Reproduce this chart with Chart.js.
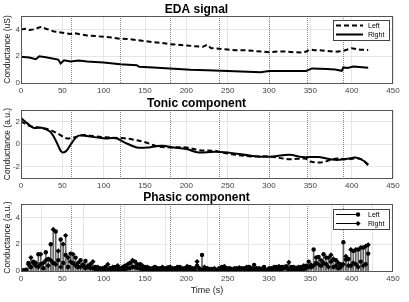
<!DOCTYPE html>
<html>
<head>
<meta charset="utf-8">
<script src="https://cdn.jsdelivr.net/npm/chart.js@4/dist/chart.umd.min.js"></script>
<style>
  html, body { margin: 0; padding: 0; background: #fff; }
  #wrap { position: relative; width: 409px; height: 302px; }
  canvas { position: absolute; left: 0; }
</style>
</head>
<body>
<div id="wrap">
  <canvas id="eda" width="409" height="96" style="top:0"></canvas>
  <canvas id="tonic" width="409" height="96" style="top:96px"></canvas>
  <canvas id="phasic" width="409" height="112" style="top:190px"></canvas>
</div>
<script>
// ---- data ----
const timeTicks = [0, 50, 100, 150, 200, 250, 300, 350, 400, 450];
const edaTicks = [0, 2, 4];
const tonicTicks = [-2, 0, 2];
const phasicTicks = [0, 2, 4];
const markerTimes = [60, 120, 180, 240, 300, 346, 390];

const edaLeftTime = [0, 5, 10, 15, 20, 25, 30, 35, 40, 50, 55, 60, 65, 70, 80, 90, 100, 110, 120, 130, 140, 150, 160, 170, 180, 190, 200, 210, 220, 225, 230, 240, 250, 260, 270, 280, 290, 300, 310, 320, 330, 340, 345, 350, 355, 360, 370, 380, 390, 395, 400, 410, 420];
const edaLeft = [4.0, 4.05, 3.95, 4.0, 4.1, 4.2, 4.05, 3.95, 3.85, 3.75, 3.7, 3.65, 3.72, 3.65, 3.55, 3.5, 3.45, 3.4, 3.3, 3.28, 3.2, 3.12, 3.05, 3.0, 2.9, 2.85, 2.8, 2.75, 2.7, 2.85, 2.6, 2.55, 2.5, 2.45, 2.45, 2.4, 2.35, 2.3, 2.35, 2.35, 2.3, 2.28, 2.35, 2.5, 2.45, 2.45, 2.4, 2.32, 2.4, 2.5, 2.6, 2.48, 2.47];

const edaRightTime = [0, 10, 18, 22, 30, 45, 48, 52, 60, 70, 80, 100, 120, 140, 143, 160, 180, 205, 225, 250, 290, 300, 320, 345, 352, 370, 380, 388, 390, 395, 402, 420];
const edaRight = [1.95, 1.9, 1.78, 2.0, 1.92, 1.75, 1.46, 1.7, 1.6, 1.67, 1.6, 1.53, 1.4, 1.33, 1.21, 1.16, 1.09, 0.99, 0.96, 0.89, 0.81, 0.89, 0.9, 0.9, 1.09, 1.05, 1.01, 0.91, 1.16, 1.12, 1.23, 1.14];

const tonicRightTime = [0, 8, 15, 25, 35, 40, 45, 48, 51, 55, 60, 65, 70, 80, 100, 115, 125, 140, 155, 170, 185, 200, 215, 230, 240, 250, 280, 300, 325, 340, 360, 380, 395, 405, 415, 420];
const tonicRight = [2.3, 1.8, 1.43, 1.43, 1.1, 0.6, -0.15, -0.6, -0.75, -0.6, -0.06, 0.45, 0.74, 0.7, 0.5, 0.5, 0.15, -0.3, -0.3, -0.15, -0.3, -0.45, -0.75, -0.7, -0.7, -0.75, -1.05, -1.13, -0.95, -1.15, -1.15, -1.4, -1.3, -1.2, -1.5, -1.85];

const tonicLeftTime = [0, 10, 25, 35, 45, 55, 65, 75, 90, 110, 125, 135, 150, 165, 180, 200, 215, 235, 240, 260, 280, 300, 325, 335, 345, 350, 365, 380, 395, 410, 420];
const tonicLeft = [2.0, 1.6, 1.43, 1.25, 0.9, 0.5, 0.6, 0.8, 0.67, 0.55, 0.5, 0.4, 0.16, -0.2, -0.3, -0.3, -0.55, -0.6, -0.7, -0.95, -1.1, -1.1, -1.35, -1.3, -1.3, -1.55, -1.6, -1.3, -1.35, -1.3, -1.85];

const phasicTime = [0, 3, 6, 9, 12, 15, 18, 21, 24, 27, 30, 33, 36, 39, 42, 45, 48, 51, 54, 57, 60, 63, 66, 69, 72, 75, 78, 81, 84, 87, 90, 93, 96, 99, 102, 105, 108, 111, 114, 117, 120, 123, 126, 129, 132, 135, 138, 141, 144, 147, 150, 153, 156, 159, 162, 165, 168, 171, 174, 177, 180, 183, 186, 189, 192, 195, 198, 201, 204, 207, 210, 213, 216, 219, 222, 225, 228, 231, 234, 237, 240, 243, 246, 249, 252, 255, 258, 261, 264, 267, 270, 273, 276, 279, 282, 285, 288, 291, 294, 297, 300, 303, 306, 309, 312, 315, 318, 321, 324, 327, 330, 333, 336, 339, 342, 345, 348, 351, 354, 357, 360, 363, 366, 369, 372, 375, 378, 381, 384, 387, 390, 393, 396, 399, 402, 405, 408, 411, 414, 417, 420];
const phasicLeft = [0.05, 0.05, 0.1, 0.6, 0.3, 0.7, 0.4, 1.25, 0.5, 0.2, 1.4, 0.9, 2.0, 0.6, 2.95, 0.8, 2.35, 0.6, 1.2, 0.3, 1.3, 0.6, 1.0, 0.3, 0.8, 0.4, 0.75, 0.3, 0.5, 0.2, 0.3, 0.1, 0.2, 0.1, 0.3, 0.1, 0.2, 0.05, 0.3, 0.1, 0.2, 0.1, 0.4, 0.2, 0.6, 0.3, 0.7, 0.2, 0.5, 0.1, 0.3, 0.1, 0.2, 0.05, 0.3, 0.1, 0.2, 0.05, 0.2, 0.1, 0.3, 0.05, 0.2, 0.1, 0.3, 0.05, 0.2, 0.1, 0.3, 0.05, 0.2, 0.4, 0.1, 1.2, 0.1, 0.2, 0.05, 0.15, 0.05, 0.1, 0.2, 0.3, 0.1, 0.05, 0.2, 0.1, 0.05, 0.2, 0.1, 0.2, 0.05, 0.1, 0.3, 0.05, 0.45, 0.1, 0.2, 0.05, 0.3, 0.1, 0.05, 0.2, 0.1, 0.3, 0.1, 0.3, 0.2, 0.35, 0.1, 0.3, 0.1, 0.25, 0.05, 0.3, 0.15, 0.4, 0.7, 0.3, 1.6, 0.6, 1.05, 0.4, 1.25, 0.5, 1.0, 0.7, 0.3, 0.8, 0.2, 0.5, 2.15, 0.85, 0.9, 0.4, 1.5, 0.5, 1.6, 0.7, 1.75, 0.5, 1.3];
const phasicRight = [0.05, 0.05, 0.05, 0.5, 1.0, 0.6, 0.6, 0.3, 1.25, 0.6, 0.8, 0.4, 0.8, 3.1, 0.5, 1.5, 0.3, 2.0, 2.65, 1.0, 0.7, 1.25, 0.4, 0.6, 0.3, 0.5, 0.2, 0.4, 0.2, 0.7, 0.1, 0.3, 0.1, 0.2, 0.05, 0.5, 0.1, 0.3, 0.1, 0.4, 0.1, 0.3, 0.1, 0.5, 0.2, 0.8, 0.3, 0.5, 0.2, 0.4, 0.1, 0.3, 0.05, 0.2, 0.1, 0.2, 0.05, 0.3, 0.1, 0.25, 0.05, 0.2, 0.1, 0.3, 0.05, 0.2, 0.1, 0.35, 0.1, 0.2, 0.05, 0.7, 0.2, 0.05, 0.3, 0.05, 0.15, 0.05, 0.2, 0.05, 0.1, 0.05, 0.35, 0.2, 0.05, 0.15, 0.2, 0.05, 0.25, 0.05, 0.2, 0.3, 0.05, 0.2, 0.1, 0.2, 0.05, 0.15, 0.1, 0.05, 0.2, 0.1, 0.3, 0.05, 0.35, 0.1, 0.3, 0.2, 0.65, 0.15, 0.3, 0.1, 0.3, 0.1, 0.4, 0.2, 0.3, 0.45, 0.4, 1.0, 0.5, 0.8, 0.6, 1.0, 0.3, 1.2, 0.9, 0.4, 0.6, 0.3, 0.5, 1.1, 0.4, 1.6, 0.6, 1.6, 0.3, 1.75, 0.4, 1.85, 1.95];

// ---- helpers ----
const FONT = '"Liberation Sans", Arial, sans-serif';
Chart.defaults.font.family = FONT;
Chart.defaults.color = '#333';

function pts(xs, ys) {
    return xs.map((x, i) => ({ x: x, y: ys[i] }));
}

function xAxis(height, title) {
    return {
        type: 'linear', min: 0, max: 450, offset: false,
        afterBuildTicks: s => { s.ticks = timeTicks.map(v => ({ value: v })); },
        ticks: { font: { size: 8 }, padding: 3, maxRotation: 0, color: '#444' },
        grid: { color: '#e6e6e6', drawTicks: false },
        border: { display: false },
        title: title ? { display: true, text: title, font: { size: 9 }, color: '#222', padding: { top: 0, bottom: 0 } } : { display: false },
        afterFit: s => { s.height = height; }
    };
}

function yAxis(min, max, tickList, title) {
    return {
        min: min, max: max,
        afterBuildTicks: s => { s.ticks = tickList.map(v => ({ value: v })); },
        ticks: { font: { size: 8 }, padding: 1, color: '#444' },
        grid: { color: '#e6e6e6', drawTicks: false },
        border: { display: false },
        title: { display: true, text: title, font: { size: 8.5 }, color: '#222', padding: { top: 3, bottom: 0 } },
        afterFit: s => { s.width = 21; }
    };
}

function titleOpts(text, top) {
    return {
        display: true, text: text, color: '#000',
        font: { size: 12, weight: 'bold', lineHeight: 1 },
        padding: { top: top, bottom: 0 }
    };
}

// axes box + event markers
const frame = {
    id: 'frame',
    beforeDatasetsDraw(chart) {
        const { ctx, chartArea: a, scales } = chart;
        ctx.save();
        ctx.strokeStyle = '#888';
        ctx.lineWidth = 1;
        ctx.setLineDash([1, 1]);
        markerTimes.forEach(t => {
            const px = Math.round(scales.x.getPixelForValue(t)) + 0.5;
            ctx.beginPath();
            ctx.moveTo(px, a.top);
            ctx.lineTo(px, a.bottom);
            ctx.stroke();
        });
        ctx.restore();
    },
    afterDraw(chart) {
        const { ctx, chartArea: a } = chart;
        ctx.save();
        ctx.strokeStyle = '#555';
        ctx.lineWidth = 1;
        ctx.strokeRect(Math.round(a.left) + 0.5, Math.round(a.top) + 0.5,
            Math.round(a.right - a.left) - 1, Math.round(a.bottom - a.top));
        ctx.restore();
    }
};

function drawMarker(ctx, style, x, y, r) {
    ctx.beginPath();
    if (style === 'rectRot') {
        ctx.moveTo(x, y - r); ctx.lineTo(x + r, y); ctx.lineTo(x, y + r); ctx.lineTo(x - r, y);
        ctx.closePath();
    } else {
        ctx.arc(x, y, r, 0, Math.PI * 2);
    }
    ctx.fill();
}

// MATLAB style boxed legend inside the axes
const boxLegend = {
    id: 'boxLegend',
    afterDraw(chart, args, opts) {
        if (!opts.show) return;
        const { ctx, chartArea: a } = chart;
        const items = chart.data.datasets.filter(d => d.label);
        const w = 56, h = 20;
        const x = Math.round(a.right) - w - 4, y = Math.round(a.top) + opts.gap;
        ctx.save();
        ctx.fillStyle = '#fff';
        ctx.fillRect(x, y, w, h);
        ctx.strokeStyle = '#444';
        ctx.lineWidth = 1;
        ctx.strokeRect(x + 0.5, y + 0.5, w, h);
        items.forEach((d, i) => {
            const cy = y + 5.5 + i * 9;
            ctx.strokeStyle = '#000';
            ctx.fillStyle = '#000';
            ctx.lineWidth = opts.lineWidth;
            ctx.setLineDash(d.borderDash || []);
            ctx.beginPath();
            ctx.moveTo(x + 3, cy);
            ctx.lineTo(x + (opts.markers ? 25 : 30), cy);
            ctx.stroke();
            ctx.setLineDash([]);
            if (opts.markers) drawMarker(ctx, d.pointStyle, x + 25, cy, d.pointRadius);
            ctx.font = '7px ' + FONT;
            ctx.textBaseline = 'middle';
            ctx.fillText(d.label, x + 35, cy + 0.5);
        });
        ctx.restore();
    }
};

function lineSet(label, xs, ys, dash, tension) {
    return {
        label: label, data: pts(xs, ys),
        borderColor: '#000', borderWidth: 2, borderDash: dash,
        pointRadius: 0, tension: tension, fill: false
    };
}

// ---- EDA signal ----
new Chart(document.getElementById('eda'), {
    type: 'line',
    data: {
        datasets: [
            lineSet('Left', edaLeftTime, edaLeft, [5, 3], 0),
            lineSet('Right', edaRightTime, edaRight, [], 0)
        ]
    },
    options: {
        responsive: false, animation: false, devicePixelRatio: 1,
        layout: { padding: { left: 0, right: 16, top: 0, bottom: 0 } },
        scales: { x: xAxis(13), y: yAxis(0, 5, edaTicks, 'Conductance (uS)') },
        plugins: {
            legend: { display: false }, tooltip: { enabled: false },
            title: titleOpts('EDA signal', 4),
            boxLegend: { show: true, gap: 4, lineWidth: 2, markers: false }
        }
    },
    plugins: [frame, boxLegend]
});

// ---- Tonic component ----
new Chart(document.getElementById('tonic'), {
    type: 'line',
    data: {
        datasets: [
            lineSet('', tonicLeftTime, tonicLeft, [5, 3], 0.35),
            lineSet('', tonicRightTime, tonicRight, [], 0.35)
        ]
    },
    options: {
        responsive: false, animation: false, devicePixelRatio: 1,
        layout: { padding: { left: 0, right: 16, top: 0, bottom: 0 } },
        scales: { x: xAxis(14), y: yAxis(-3, 3, tonicTicks, 'Conductance (a.u.)') },
        plugins: {
            legend: { display: false }, tooltip: { enabled: false },
            title: titleOpts('Tonic component', 2),
            boxLegend: { show: false }
        }
    },
    plugins: [frame, boxLegend]
});

// ---- Phasic component (stems + markers) ----
function stemSet(ys) {
    return {
        type: 'bar', label: '', data: pts(phasicTime, ys),
        backgroundColor: '#666', barThickness: 1, grouped: false, order: 2
    };
}
function markSet(label, ys, style, r) {
    return {
        type: 'scatter', label: label, data: pts(phasicTime, ys),
        pointStyle: style, pointRadius: r, backgroundColor: '#000', borderWidth: 0,
        showLine: false, order: 1
    };
}

new Chart(document.getElementById('phasic'), {
    type: 'bar',
    data: {
        datasets: [
            stemSet(phasicLeft),
            stemSet(phasicRight),
            markSet('Left', phasicLeft, 'circle', 2.2),
            markSet('Right', phasicRight, 'rectRot', 2.6)
        ]
    },
    options: {
        responsive: false, animation: false, devicePixelRatio: 1,
        layout: { padding: { left: 0, right: 16, top: 0, bottom: 6 } },
        scales: { x: xAxis(25, 'Time (s)'), y: yAxis(0, 5, phasicTicks, 'Conductance (a.u.)') },
        plugins: {
            legend: { display: false }, tooltip: { enabled: false },
            title: titleOpts('Phasic component', 2),
            boxLegend: { show: true, gap: 5, lineWidth: 1, markers: true }
        }
    },
    plugins: [frame, boxLegend]
});
</script>
</body>
</html>
